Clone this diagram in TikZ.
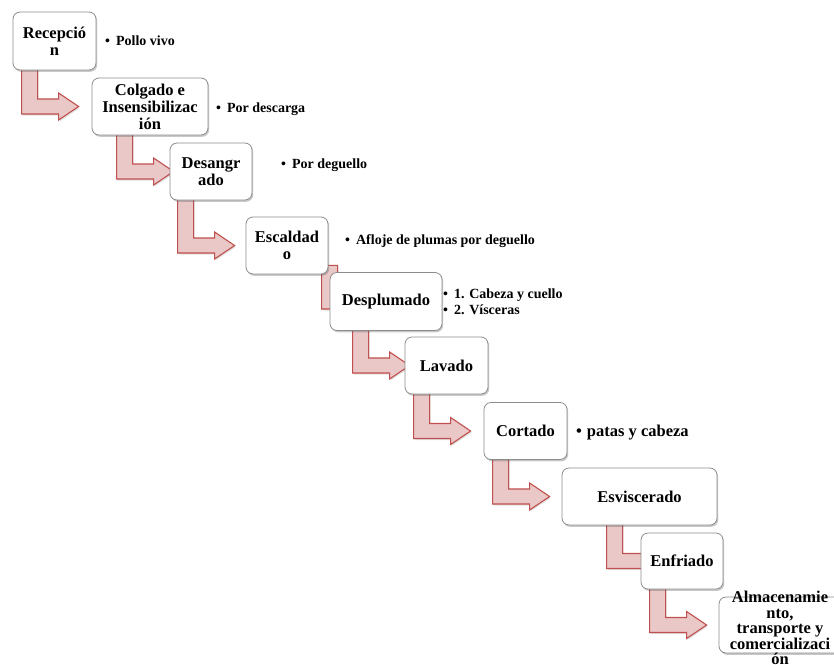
\documentclass[tikz,border=0pt]{standalone}
\usepackage{fontspec}
\setmainfont{Liberation Serif}
\usetikzlibrary{calc,shadows,backgrounds}
\definecolor{arrline}{RGB}{192,80,77}
\definecolor{arrfill}{RGB}{234,200,200}
\definecolor{boxline}{RGB}{140,140,140}
\tikzset{
  stepbox/.style={draw=boxline, line width=0.8pt, fill=white, rounded corners=7pt,
    inner sep=1pt, align=center, font=\bfseries\fontsize{16.5}{17}\selectfont,
    drop shadow={shadow xshift=1.2pt, shadow yshift=-1.8pt, opacity=.3, fill=black!70}},
  steptext/.style={inner sep=0pt, align=center, font=\bfseries\fontsize{16.5}{15.5}\selectfont},
  bentarrow/.style={draw=arrline, line width=1.1pt, fill=arrfill, line join=miter,
    drop shadow={shadow xshift=1pt, shadow yshift=-1.5pt, opacity=.2, fill=black!60}},
  note/.style={anchor=west, inner sep=0pt, align=left, font=\bfseries\fontsize{14}{16.5}\selectfont},
  bignote/.style={anchor=west, inner sep=0pt, align=left, font=\bfseries\fontsize{16.5}{17}\selectfont}
}
% #1 from-box, #2 to-box, #3 x offset of the vertical bar from the from-box's left edge
\newcommand\bentarr[3]{%
  \path[bentarrow] let \p1=(#1.south west), \p2=(#2.west) in
    (\x1+#3pt, \y1+9pt) -- (\x1+#3pt+16pt, \y1+9pt) -- (\x1+#3pt+16pt, \y2+7.5pt)
    -- (\x1+#3pt+37pt, \y2+7.5pt) -- (\x1+#3pt+37pt, \y2+13.5pt) -- (\x1+#3pt+57pt, \y2)
    -- (\x1+#3pt+37pt, \y2-13.5pt) -- (\x1+#3pt+37pt, \y2-7.5pt) -- (\x1+#3pt, \y2-7.5pt) -- cycle;}
\begin{document}
\begin{tikzpicture}[x=1pt, y=-1pt]
\useasboundingbox (0,0) rectangle (834,664);
\clip (0,0) rectangle (834,664);

\node[stepbox, minimum width=83pt, minimum height=58pt] (b1) at (54.5,41) {Recepció\\n};
\node[stepbox, minimum width=116pt, minimum height=57pt] (b2) at (150,106.5) {Colgado e\\Insensibilizac\\ión};
\node[stepbox, minimum width=82pt, minimum height=57pt] (b3) at (211,171.5) {Desangr\\ado};
\node[stepbox, minimum width=82pt, minimum height=57pt] (b4) at (287,245.5) {Escaldad\\o};
\node[stepbox, minimum width=112pt, minimum height=58pt] (b5) at (386,301.5) {Desplumado};
\node[stepbox, minimum width=83pt, minimum height=57pt] (b6) at (446.5,365.5) {Lavado};
\node[stepbox, minimum width=83pt, minimum height=57pt] (b7) at (525.5,431) {Cortado};
\node[stepbox, minimum width=155pt, minimum height=57pt] (b8) at (639.5,496.5) {Esviscerado};
\node[stepbox, minimum width=82pt, minimum height=56pt] (b9) at (682,561) {Enfriado};
\node[stepbox, minimum width=131pt, minimum height=56pt] (b10) at (784.5,625) {};
\node[steptext] (t10) at (780,628) {Almacenamie\\nto,\\transporte y\\comercializaci\\ón};

\begin{scope}[on background layer]
  \fill[white] (0,0) rectangle (834,664);
  \bentarr{b1}{b2}{9}
  \bentarr{b2}{b3}{25}
  \bentarr{b3}{b4}{8}
  \bentarr{b4}{b5}{76}
  \bentarr{b5}{b6}{23}
  \bentarr{b6}{b7}{9}
  \bentarr{b7}{b8}{9}
  \bentarr{b8}{b9}{45}
  \bentarr{b9}{b10}{9}
\end{scope}

\node[note] (n1) at (105,41) {\textbullet\hspace{6pt}Pollo vivo};
\node[note] (n2) at (216,109.5) {\textbullet\hspace{6pt}Por descarga};
\node[note] (n3) at (281,165) {\textbullet\hspace{6pt}Por deguello};
\node[note] (n4) at (345,241) {\textbullet\hspace{6pt}Afloje de plumas por deguello};
\node[note] (n5) at (443,301.5) {\textbullet\hspace{6pt}1. Cabeza y cuello\\\textbullet\hspace{6pt}2. Vísceras};
\node[bignote] (n6) at (576,432.5) {\textbullet\hspace{5pt}patas y cabeza};
\end{tikzpicture}
\end{document}
